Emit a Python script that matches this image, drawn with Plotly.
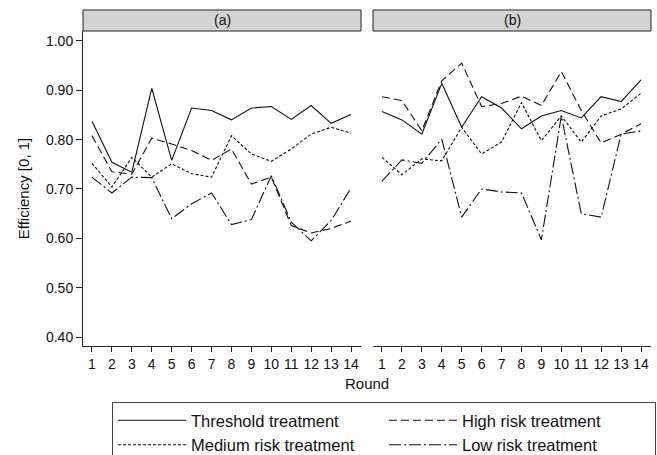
import plotly.graph_objects as go

rounds = list(range(1, 15))

# Panel (a)
a_threshold = [0.837, 0.754, 0.734, 0.904, 0.758, 0.864, 0.859, 0.840, 0.864, 0.867, 0.841, 0.869, 0.833, 0.851]
a_high = [0.808, 0.735, 0.730, 0.803, 0.791, 0.778, 0.758, 0.781, 0.710, 0.724, 0.626, 0.611, 0.620, 0.635]
a_medium = [0.752, 0.704, 0.764, 0.724, 0.751, 0.731, 0.724, 0.808, 0.771, 0.756, 0.781, 0.811, 0.825, 0.813]
a_low = [0.724, 0.692, 0.724, 0.723, 0.640, 0.670, 0.692, 0.628, 0.638, 0.727, 0.633, 0.595, 0.636, 0.702]

# Panel (b)
b_threshold = [0.857, 0.840, 0.811, 0.914, 0.825, 0.887, 0.864, 0.822, 0.848, 0.859, 0.844, 0.887, 0.877, 0.921]
b_high = [0.887, 0.879, 0.818, 0.919, 0.955, 0.867, 0.873, 0.888, 0.869, 0.938, 0.859, 0.793, 0.811, 0.832]
b_medium = [0.764, 0.729, 0.761, 0.757, 0.825, 0.771, 0.795, 0.875, 0.798, 0.848, 0.795, 0.848, 0.862, 0.894]
b_low = [0.716, 0.759, 0.752, 0.801, 0.643, 0.700, 0.694, 0.692, 0.597, 0.848, 0.650, 0.643, 0.811, 0.818]

series_names = ["Threshold treatment", "High risk treatment", "Medium risk treatment", "Low risk treatment"]
panel_titles = ["(a)", "(b)"]
y_ticks = [0.40, 0.50, 0.60, 0.70, 0.80, 0.90, 1.00]

dashes = ["solid", "8px,4px", "3px,2px", "12px,3px,2px,3px"]
FONT = "Liberation Sans, Arial, sans-serif"

W, H = 657, 455
def px(x):
    return x / W
def py(y):
    return 1 - y / H

fig = go.Figure()
panels = [[a_threshold, a_high, a_medium, a_low], [b_threshold, b_high, b_medium, b_low]]
for p, data in enumerate(panels):
    xa = "x" if p == 0 else "x2"
    ya = "y" if p == 0 else "y2"
    for i, vals in enumerate(data):
        fig.add_trace(go.Scatter(
            x=rounds, y=vals, mode="lines", name=series_names[i],
            line=dict(color="#111111", width=1.1, dash=dashes[i]),
            xaxis=xa, yaxis=ya, legendgroup=series_names[i],
            showlegend=(p == 0), hoverinfo="skip"))

x_doms = [[px(83), px(361)], [px(373), px(651)]]
y_dom = [py(346), py(31)]
xrange = [0.55, 14.5]
yrange = [0.382, 1.020]

common_x = dict(range=xrange, tickvals=rounds, ticks="outside", ticklen=5, tickcolor="#222",
                showline=True, linecolor="#222", linewidth=1, showgrid=False, zeroline=False,
                tickfont=dict(size=14, color="#111", family=FONT), fixedrange=True)

fig.update_layout(
    width=W, height=H,
    margin=dict(l=0, r=0, t=0, b=0, autoexpand=False),
    paper_bgcolor="white", plot_bgcolor="white",
    font=dict(family=FONT, color="#111", size=14),
    xaxis=dict(domain=x_doms[0], anchor="y", **common_x),
    xaxis2=dict(domain=x_doms[1], anchor="y2", **common_x),
    yaxis=dict(domain=y_dom, range=yrange, tickvals=y_ticks, tickformat=".2f", ticks="outside",
               ticklen=6, tickcolor="#222", showline=True, linecolor="#222", linewidth=1,
               showgrid=False, zeroline=False, anchor="x",
               tickfont=dict(size=14, color="#111", family=FONT),
               title=dict(text="Efficiency [0, 1]", font=dict(size=15, family=FONT), standoff=12)),
    yaxis2=dict(domain=y_dom, range=yrange, showticklabels=False, ticks="", showline=False,
                showgrid=False, zeroline=False, anchor="x2"),
    legend=dict(orientation="h", x=px(112), xanchor="left", y=py(402), yanchor="top",
                bordercolor="#444", borderwidth=1, bgcolor="white",
                font=dict(size=16.5, family=FONT, color="#111"),
                entrywidth=188, entrywidthmode="pixels", itemwidth=68,
                traceorder="normal", tracegroupgap=0),
)

shapes = []
annotations = []
for p in range(2):
    shapes.append(dict(type="rect", xref="paper", yref="paper",
                       x0=x_doms[p][0], x1=x_doms[p][1], y0=py(31), y1=py(10),
                       fillcolor="#d3d3d3", line=dict(color="#222", width=1)))
    annotations.append(dict(text=panel_titles[p], xref="paper", yref="paper",
                            x=(x_doms[p][0] + x_doms[p][1]) / 2, y=py(20.5),
                            showarrow=False, font=dict(size=14, family=FONT, color="#111"),
                            xanchor="center", yanchor="middle"))
annotations.append(dict(text="Round", xref="paper", yref="paper", x=px(367), y=py(383),
                        showarrow=False, font=dict(size=15, family=FONT, color="#111"),
                        xanchor="center", yanchor="middle"))
fig.update_layout(shapes=shapes, annotations=annotations)

fig.write_html("out.html")
